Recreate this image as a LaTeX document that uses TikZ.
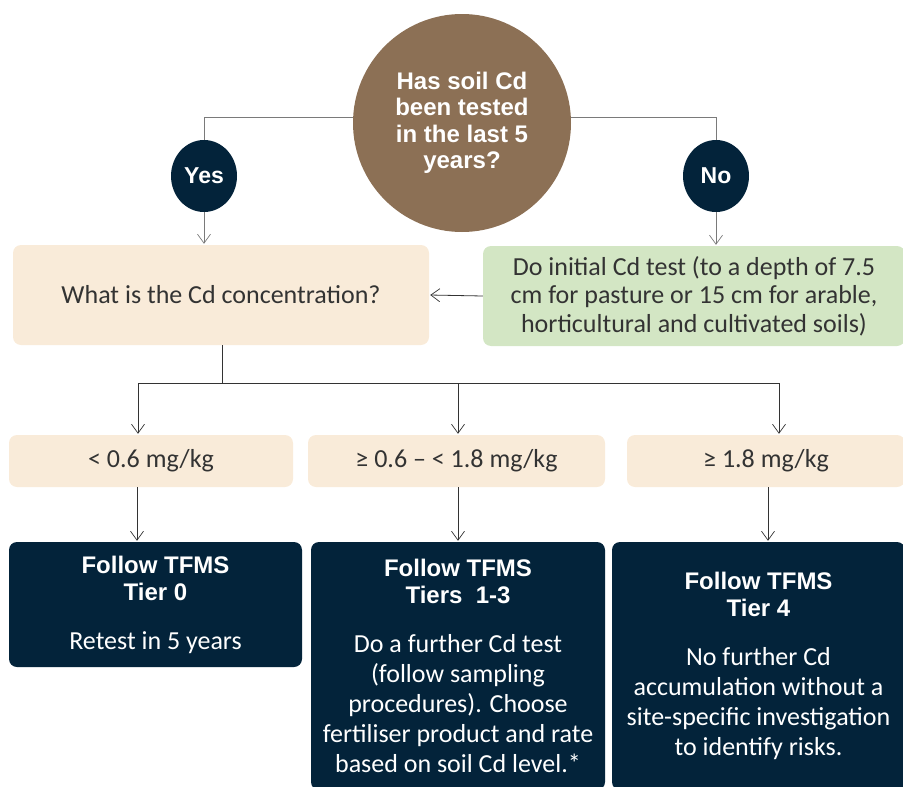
\documentclass[tikz,border=0pt]{standalone}
\usepackage{fontspec}
\setmainfont{Carlito}
\newfontfamily\headfont{Liberation Sans}
\usetikzlibrary{shapes.geometric,arrows.meta}
\definecolor{soilbrown}{HTML}{8C7055}
\definecolor{navy}{HTML}{03233A}
\definecolor{cream}{HTML}{F9EBD9}
\definecolor{sage}{HTML}{D3E6C4}
\definecolor{ink}{HTML}{333333}
\definecolor{wiregray}{HTML}{7A7A7A}
\newcommand\headtxt{\headfont\bfseries\fontsize{24}{27}\selectfont}
\newcommand\bodytxt{\normalfont\fontsize{26}{30}\selectfont}
\begin{document}
\begin{tikzpicture}[x=1pt,y=-1pt]

    \tikzset{
      question/.style={
        circle,
        fill=soilbrown,
        text=white,
        inner sep=0pt,
        minimum size=218pt,
        align=flush center,
        font=\headfont\bfseries\fontsize{24}{26.5}\selectfont,
      },
      answer/.style={
        ellipse,
        fill=navy,
        text=white,
        inner sep=0pt,
        minimum width=66pt,
        minimum height=72pt,
        font=\headfont\bfseries\fontsize{23}{26}\selectfont,
      },
      softbox/.style={
        rectangle,
        rounded corners=8pt,
        fill=cream,
        text=ink,
        inner sep=0pt,
        align=flush center,
        font=\bodytxt,
      },
      tierbox/.style={
        rectangle,
        rounded corners=8pt,
        fill=navy,
        text=white,
        inner sep=0pt,
        align=flush center,
        text width=285pt,
        font=\bodytxt,
      },
      link/.style={draw=wiregray, line width=0.8pt},
      wire/.style={draw=ink, line width=0.8pt},
      tip/.style={-{Straight Barb[length=9pt,width=13pt,line width=0.7pt]}, shorten >=1pt},
    }
    \useasboundingbox (0,0) rectangle (903,787);

	\node[question] (q) at (462,123) {Has soil Cd\\been tested\\in the last 5\\years?};
	\node[answer] (yes) at (204,176) {Yes};
	\node[answer] (no) at (716,176) {No};

	\node[softbox, minimum width=416pt, minimum height=100pt] (conc) at (221,295) {What is the Cd concentration?};
	\node[softbox, fill=sage, minimum width=422pt, minimum height=100pt, text width=410pt,
	  font=\normalfont\fontsize{26}{28.5}\selectfont] (init) at (694,296)
	  {Do initial Cd test (to a depth of 7.5\\cm for pasture or 15 cm for arable,\\horticultural and cultivated soils)};

	\node[softbox, minimum width=284pt, minimum height=52pt] (lo) at (151,461) {< 0.6 mg/kg};
	\node[softbox, minimum width=297pt, minimum height=52pt] (mid) at (456.5,461) {≥ 0.6 – < 1.8 mg/kg};
	\node[softbox, minimum width=278pt, minimum height=52pt] (hi) at (766,461) {≥ 1.8 mg/kg};

	\node[tierbox, minimum width=293pt, minimum height=125pt] (t0) at (155.5,604.5)
	  {\headtxt Follow TFMS\\\headtxt Tier 0\\[19pt]\bodytxt Retest in 5 years};
	\node[tierbox, minimum width=294pt, minimum height=248pt] (t13) at (458,666)
	  {\headtxt Follow TFMS\\\headtxt Tiers\ \ 1-3\\[19pt]\bodytxt Do a further Cd test\\(follow sampling\\procedures). Choose\\fertiliser product and rate\\based on soil Cd level.*};
	\node[tierbox, minimum width=293pt, minimum height=248pt] (t4) at (758.5,666)
	  {\headtxt Follow TFMS\\\headtxt Tier 4\\[19pt]\bodytxt No further Cd\\accumulation without a\\site-specific investigation\\to identify risks.};

	\draw[link] (q.177) -| (yes.north);
	\draw[link] (q.3) -| (no.north);
	\draw[link,tip] (yes.south) -- (yes.south |- conc.north);
	\draw[link,tip] (no.south) -- (no.south |- init.north);
	\draw[wire,tip] (init.west) -- (conc.east);

	\coordinate (split) at (222,383);
	\draw[wire] (conc.south -| split) -- (split);
	\draw[wire,tip] (split) -| ([xshift=-13pt]lo.north);
	\draw[wire,tip] (split) -| ([xshift=1.5pt]mid.north);
	\draw[wire,tip] (split) -| ([xshift=13pt]hi.north);

	\draw[wire,tip] ([xshift=-14pt]lo.south) -- ([xshift=-14pt]lo.south |- t0.north);
	\draw[wire,tip] ([xshift=1.5pt]mid.south) -- ([xshift=1.5pt]mid.south |- t13.north);
	\draw[wire,tip] ([xshift=2pt]hi.south) -- ([xshift=2pt]hi.south |- t4.north);

\end{tikzpicture}
\end{document}
